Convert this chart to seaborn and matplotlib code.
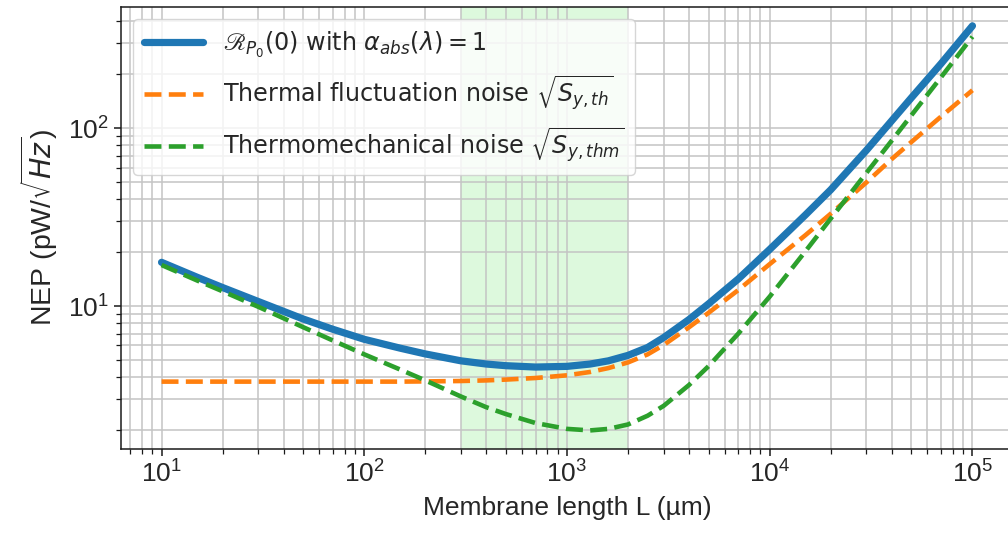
import numpy as np
import pandas as pd
import matplotlib
matplotlib.use("Agg")
import matplotlib.pyplot as plt
import seaborn as sns

# Membrane length L (um)
L_um = [10, 15, 20, 30, 50, 70, 100, 150, 200, 300, 400, 500, 700, 1000,
        1300, 1600, 2000, 2500, 3000, 4000, 5000, 7000, 10000, 15000, 20000,
        30000, 40000, 50000, 70000, 100000]

# NEP total, R_P0(0) with alpha_abs = 1  (pW/sqrt(Hz))
nep_total = [17.6, 14.5, 12.7, 10.6, 8.45, 7.4, 6.5, 5.8, 5.38, 4.92, 4.72,
             4.62, 4.54, 4.58, 4.72, 4.92, 5.28, 5.85, 6.65, 8.4, 10.3, 14.2,
             20.8, 32.5, 45.0, 75.0, 110.0, 148.0, 230.0, 375.0]

# Thermal fluctuation noise sqrt(S_y,th)
nep_thermal = [3.76, 3.76, 3.76, 3.76, 3.76, 3.76, 3.76, 3.76, 3.77, 3.79,
               3.82, 3.86, 3.94, 4.08, 4.26, 4.48, 4.82, 5.35, 6.04, 7.6,
               9.17, 12.3, 17.2, 25.0, 33.0, 49.5, 67.0, 83.5, 116.0, 163.0]

# Thermomechanical noise sqrt(S_y,thm)
nep_thermomech = [17.0, 13.9, 12.1, 9.9, 7.6, 6.4, 5.35, 4.4, 3.82, 3.1,
                  2.7, 2.47, 2.2, 2.04, 2.0, 2.04, 2.16, 2.42, 2.75, 3.6,
                  4.6, 7.0, 11.3, 20.3, 31.0, 56.0, 85.0, 118.0, 193.0, 326.0]

# Highlighted range of membrane lengths
span_range = [300, 2000]

labels = [r'$\mathscr{R}_{P_0}(0)$ with $\alpha_{abs}(\lambda) = 1$',
          r'Thermal fluctuation noise $\sqrt{S_{y,th}}$',
          r'Thermomechanical noise $\sqrt{S_{y,thm}}$']

sns.set_theme(style="ticks")
plt.rcParams['font.family'] = ['Liberation Sans', 'DejaVu Sans']
plt.rcParams['mathtext.fontset'] = 'dejavusans'

fig = plt.figure(figsize=(10.08, 5.36), dpi=100)
ax = fig.add_axes([121 / 1008, 1 - 449 / 536, (1013 - 121) / 1008, (449 - 7) / 536])
ax.set_xscale('log')
ax.set_yscale('log')

ax.axvspan(span_range[0], span_range[1], color='lightgreen', alpha=0.3, lw=0, zorder=0)

df = pd.DataFrame({'L': L_um, 'total': nep_total, 'th': nep_thermal, 'thm': nep_thermomech})
sns.lineplot(data=df, x='L', y='total', ax=ax, color='#1f77b4', lw=5.2,
             label=labels[0], sort=False, zorder=3)
sns.lineplot(data=df, x='L', y='th', ax=ax, color='#ff7f0e', lw=3.3,
             linestyle='--', label=labels[1], sort=False, zorder=3)
sns.lineplot(data=df, x='L', y='thm', ax=ax, color='#2ca02c', lw=3.3,
             linestyle='--', label=labels[2], sort=False, zorder=3)

ax.set_xlim(10 ** 0.8, 10 ** 5.2)
ax.set_ylim(10 ** 0.1966, 10 ** 2.680)

ax.grid(True, which='both', color='#c4c4c4', lw=1.1, zorder=1)
ax.set_axisbelow(True)

for s in ax.spines.values():
    s.set_color('#1a1a1a')
    s.set_linewidth(1.1)

ax.tick_params(which='major', length=5, width=1.1, labelsize=19, color='#1a1a1a')
ax.tick_params(which='minor', length=3.5, width=0.9, color='#1a1a1a')

ax.set_xlabel('Membrane length L (µm)', fontsize=19, labelpad=6)
ax.set_ylabel(r'NEP (pW/$\sqrt{Hz}$)', fontsize=20.5, labelpad=6)

ax.legend(loc='upper left', prop={'family': ['DejaVu Sans'], 'size': 17.2},
          framealpha=0.8, edgecolor='#cccccc',
          handlelength=2.5, borderpad=0.45, labelspacing=0.55)

fig.savefig('out.png', dpi=100)
